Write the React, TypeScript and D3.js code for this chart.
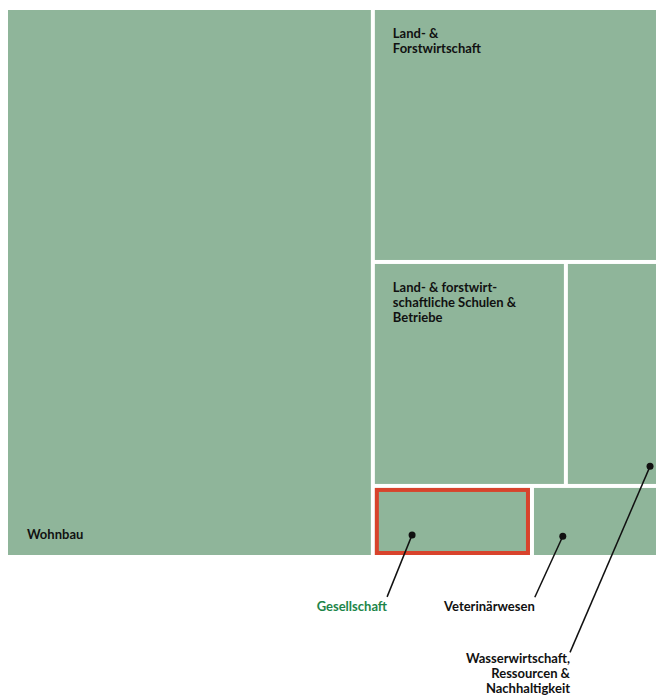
import React, { useRef, useEffect } from 'react';
import * as d3 from 'd3';

// budget areas (values read from tile areas)
const names = [
  'Wohnbau',
  'Land- & Forstwirtschaft',
  'Land- & forstwirtschaftliche Schulen & Betriebe',
  'Wasserwirtschaft, Ressourcen & Nachhaltigkeit',
  'Gesellschaft',
  'Veterinärwesen',
];
const values = [192.4, 84.7, 41.3, 33.4, 10.8, 12.9];
const labelLines = [
  ['Wohnbau'],
  ['Land- &', 'Forstwirtschaft'],
  ['Land- & forstwirt-', 'schaftliche Schulen &', 'Betriebe'],
  ['Wasserwirtschaft,', 'Ressourcen &', 'Nachhaltigkeit'],
  ['Gesellschaft'],
  ['Veterinärwesen'],
];
const highlighted = 'Gesellschaft';

const W = 656;
const H = 695;
const FILL = '#8fb59a';
const FONT = 'Lato, "Open Sans", sans-serif';

const App = () => {
  const svgRef = useRef(null);

  useEffect(() => {
    const svg = d3.select(svgRef.current);
    svg.selectAll('*').remove();

    const leaf = (i) => ({ name: names[i], value: values[i], idx: i });
    const data = {
      name: 'root',
      children: [
        leaf(0),
        {
          name: 'rest',
          children: [
            leaf(1),
            { name: 'row2', children: [leaf(2), leaf(3)] },
            { name: 'row3', children: [leaf(4), leaf(5)] },
          ],
        },
      ],
    };

    const root = d3.hierarchy(data).sum((d) => d.value || 0);
    d3.treemap()
      .tile(d3.treemapSliceDice)
      .size([712, 545])
      .paddingInner(4)(root);

    const g = svg.append('g').attr('transform', 'translate(8,10)');
    const leaves = root.leaves();

    const cell = g.selectAll('g.cell')
      .data(leaves)
      .enter()
      .append('g')
      .attr('class', 'cell');

    cell.append('rect')
      .attr('x', (d) => d.x0)
      .attr('y', (d) => d.y0)
      .attr('width', (d) => d.x1 - d.x0)
      .attr('height', (d) => d.y1 - d.y0)
      .attr('fill', FILL);

    cell.filter((d) => d.data.name === highlighted)
      .append('rect')
      .attr('x', (d) => d.x0 + 2)
      .attr('y', (d) => d.y0 + 2)
      .attr('width', (d) => d.x1 - d.x0 - 4)
      .attr('height', (d) => d.y1 - d.y0 - 4)
      .attr('fill', 'none')
      .attr('stroke', '#d8432c')
      .attr('stroke-width', 4);

    // labels inside tiles
    const inside = [1, 2];
    inside.forEach((i) => {
      const d = leaves.find((l) => l.data.idx === i);
      const t = g.append('text')
        .attr('x', d.x0 + 18)
        .attr('y', d.y0 + 28)
        .attr('font-family', FONT)
        .attr('font-weight', 'bold')
        .attr('font-size', 13)
        .attr('fill', '#111');
      labelLines[i].forEach((line, k) => {
        t.append('tspan').attr('x', d.x0 + 18).attr('dy', k === 0 ? 0 : 15).text(line);
      });
    });

    const wohn = leaves.find((l) => l.data.idx === 0);
    g.append('text')
      .attr('x', wohn.x0 + 19)
      .attr('y', wohn.y1 - 16)
      .attr('font-family', FONT)
      .attr('font-weight', 'bold')
      .attr('font-size', 13)
      .attr('fill', '#111')
      .text(labelLines[0][0]);

    // callouts for small tiles
    const callouts = [
      { i: 4, fx: 0.24, fy: 0.7, dx: -25, dy: 62, color: '#1d8549', ty: 14 },
      { i: 5, fx: 0.155, fy: 0.72, dx: -28, dy: 61, color: '#111', ty: 14 },
      { i: 3, fx: 0.54, fy: 0.92, dx: -80, dy: 186, color: '#111', ty: 11 },
    ];
    callouts.forEach((c) => {
      const d = leaves.find((l) => l.data.idx === c.i);
      const px = d.x0 + (d.x1 - d.x0) * c.fx;
      const py = d.y0 + (d.y1 - d.y0) * c.fy;
      g.append('line')
        .attr('x1', px).attr('y1', py)
        .attr('x2', px + c.dx).attr('y2', py + c.dy)
        .attr('stroke', '#111').attr('stroke-width', 1.5);
      g.append('circle')
        .attr('cx', px).attr('cy', py).attr('r', 3.5)
        .attr('fill', '#111');
      const t = g.append('text')
        .attr('x', px + c.dx)
        .attr('y', py + c.dy + c.ty)
        .attr('text-anchor', 'end')
        .attr('font-family', FONT)
        .attr('font-weight', 'bold')
        .attr('font-size', 13)
        .attr('fill', c.color);
      labelLines[c.i].forEach((line, k) => {
        t.append('tspan').attr('x', px + c.dx).attr('dy', k === 0 ? 0 : 15).text(line);
      });
    });
  }, []);

  return (
    <div style={{ position: 'fixed', left: 0, top: 0, width: W, height: H, overflow: 'hidden', background: '#fff' }}>
      <svg ref={svgRef} width={W} height={H} style={{ display: 'block' }}></svg>
    </div>
  );
};

export default App;
